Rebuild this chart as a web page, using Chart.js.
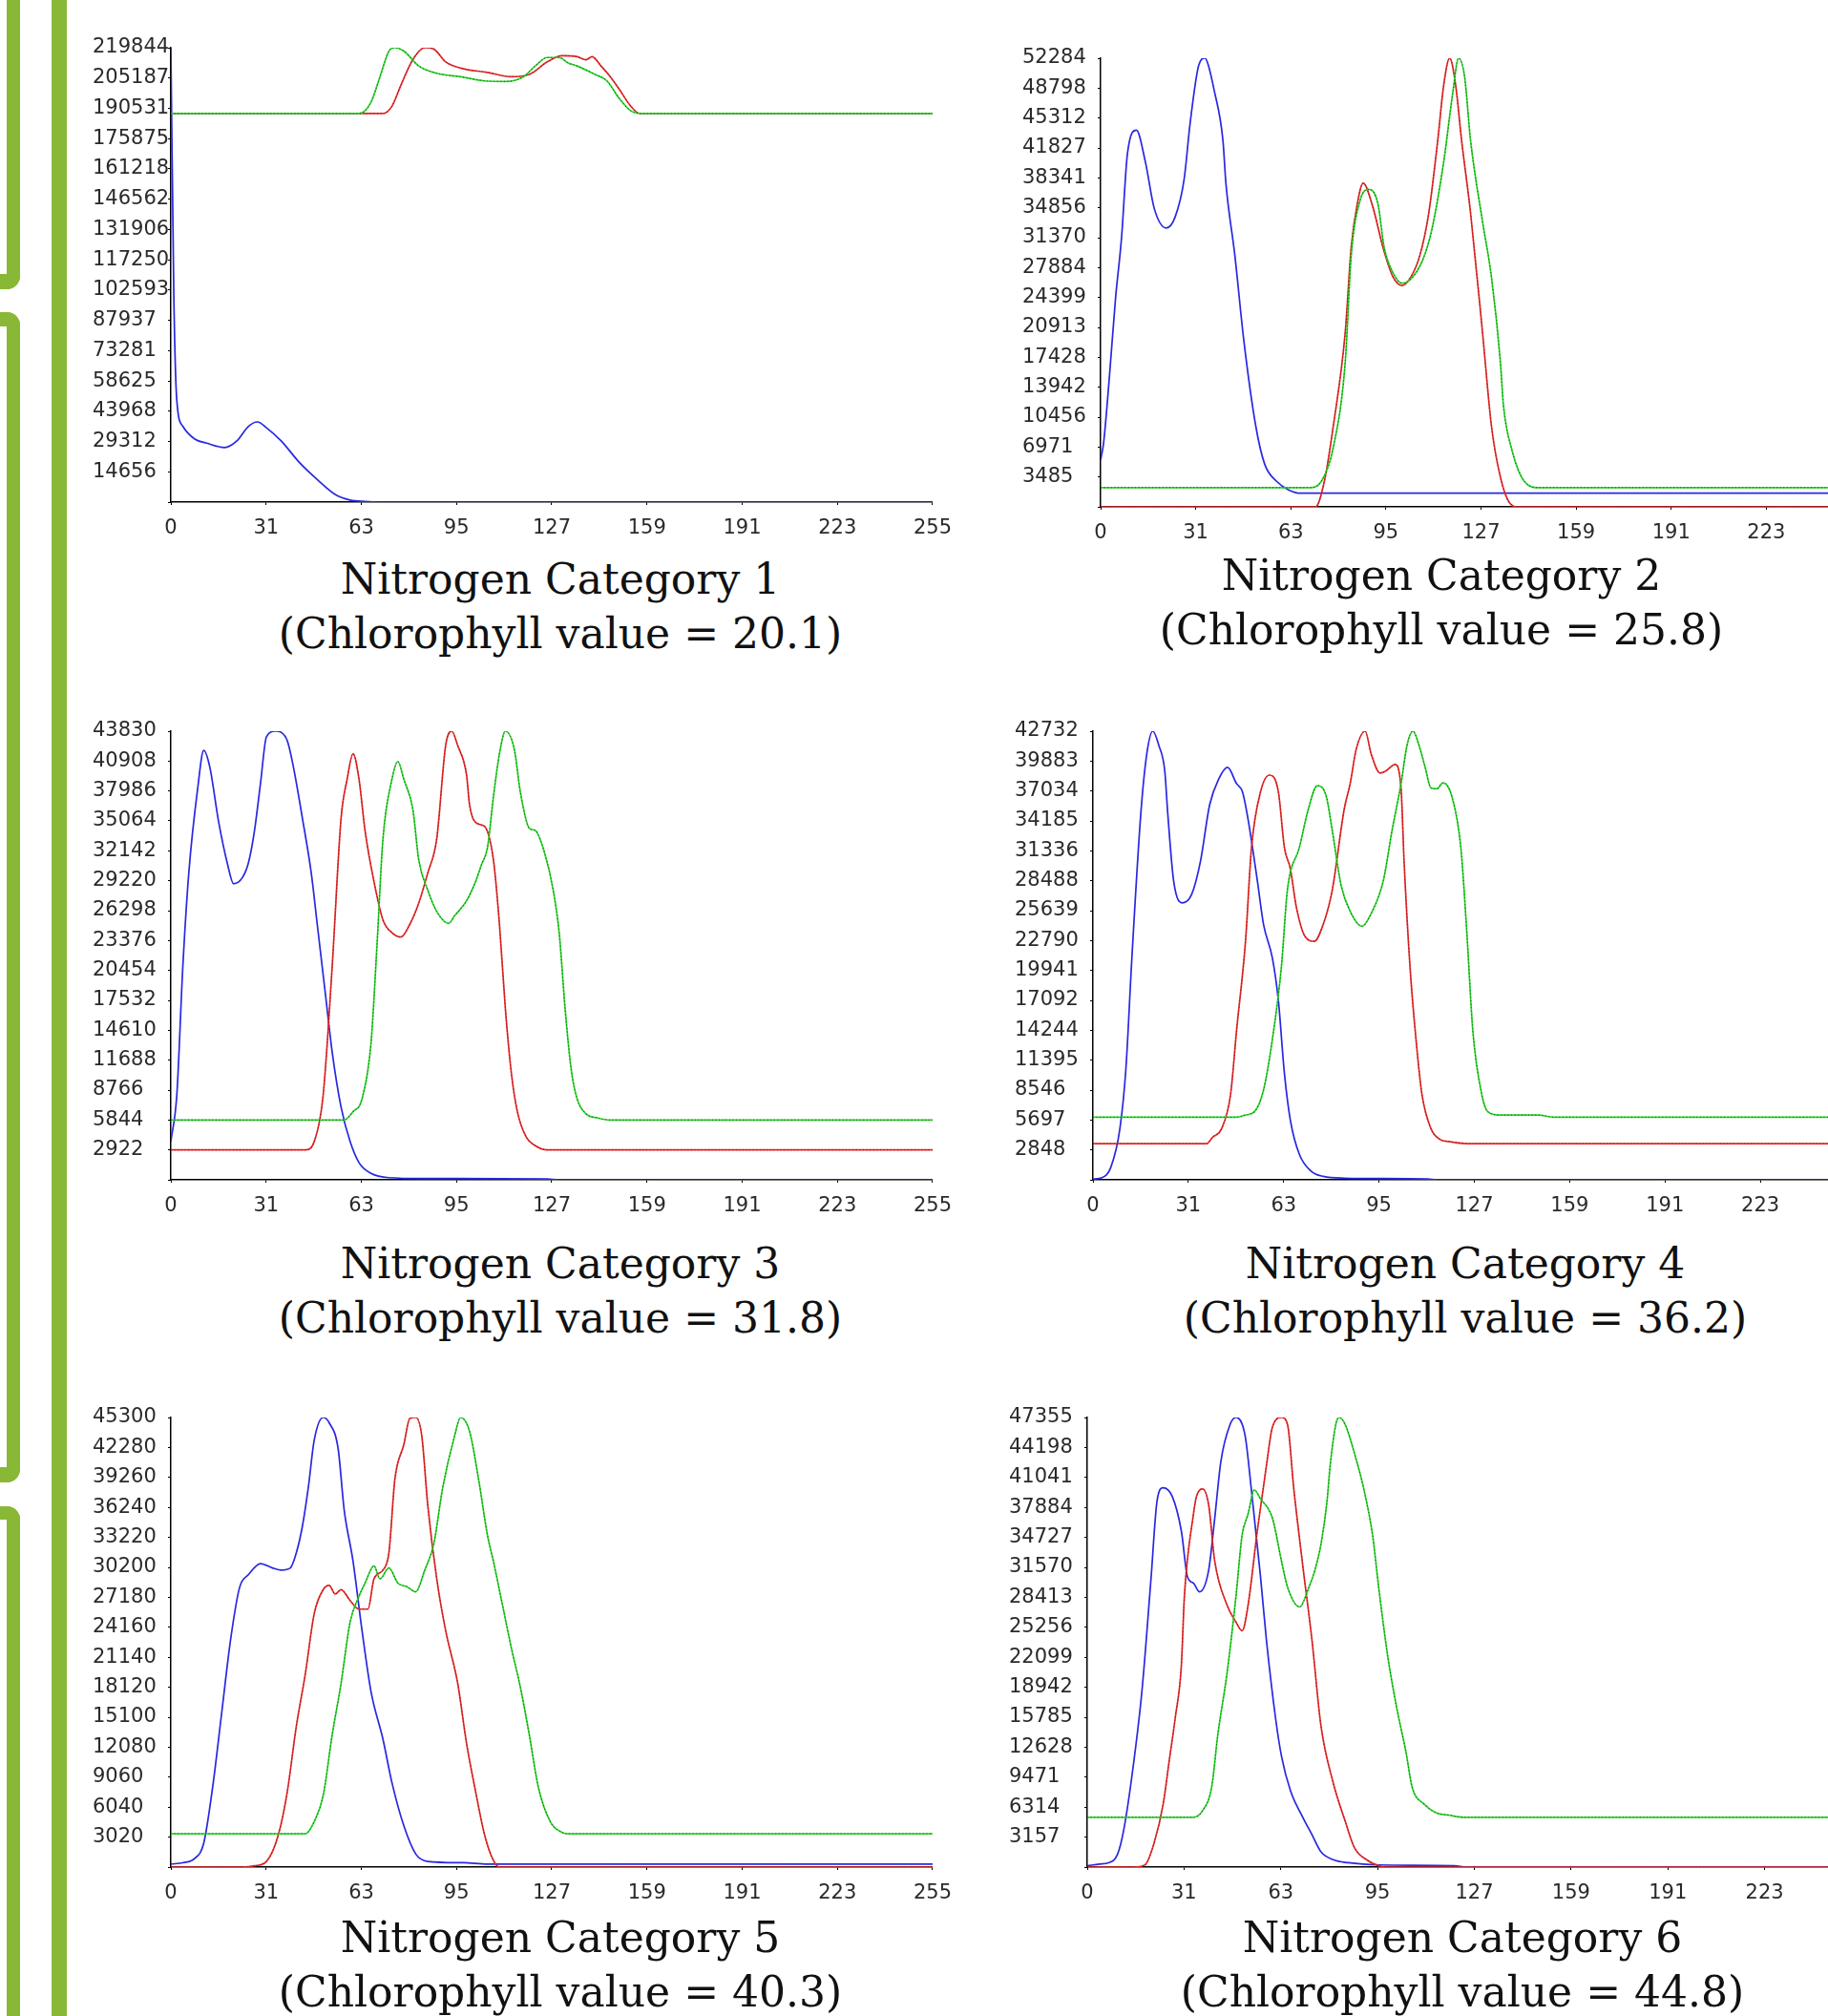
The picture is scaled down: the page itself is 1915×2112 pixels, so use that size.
<!DOCTYPE html>
<html>
<head>
<meta charset="utf-8">
<script src="https://cdn.jsdelivr.net/npm/chart.js@4.4.1/dist/chart.umd.min.js"></script>
<style>
  html, body { margin: 0; padding: 0; background: #fff; }
  body { width: 1915px; height: 2112px; position: relative; overflow: hidden; }
  .bar { position: absolute; border: 0 solid #89b836; }
  .panel { position: absolute; }
  .title {
    position: absolute; width: 900px; margin-left: -450px; text-align: center;
    font-family: "DejaVu Serif", serif; font-size: 44px; line-height: 57px;
    color: #111; white-space: nowrap;
  }
</style>
</head>
<body>
<!-- green side decoration -->
<div class="bar" style="left:-30px;top:-20px;width:37px;height:307px;border-right-width:14px;border-bottom-width:16px;border-bottom-right-radius:14px;"></div>
<div class="bar" style="left:-30px;top:327px;width:37px;height:1195px;border-top-width:15px;border-right-width:14px;border-bottom-width:16px;border-top-right-radius:14px;border-bottom-right-radius:14px;"></div>
<div class="bar" style="left:-30px;top:1578px;width:37px;height:700px;border-top-width:14px;border-right-width:14px;border-top-right-radius:14px;"></div>
<div class="bar" style="left:54px;top:0;width:0;height:2112px;border-left-width:16px;"></div>

<script>
// x axis: histogram bin (0..255), labels at eight equal steps
const xTickLabels = ["0", "31", "63", "95", "127", "159", "191", "223", "255"];

// y axis top value of each panel (ticks every max/15)
const yMax = [219844, 52284, 43830, 42732, 45300, 47355];

const categories = ["Nitrogen Category 1", "Nitrogen Category 2", "Nitrogen Category 3",
                    "Nitrogen Category 4", "Nitrogen Category 5", "Nitrogen Category 6"];
const chlorophyll = ["20.1", "25.8", "31.8", "36.2", "40.3", "44.8"];

// [bin, count]
const blue1 = [[0,219844],[1,98900],[2,49000],[4,36700],[8,30500],[12,28500],[18,26400],[22,29500],[26,36700],[29,38800],[32,36000],[37,29500],[43,19200],[49,10900],[55,3700],[60,1000],[65,300],[70,0],[255,0]];
const red1 = [[0,188000],[71,188000],[74,191500],[77,201700],[81,214100],[85,219844],[88,219200],[92,213000],[97,210000],[106,207900],[114,205800],[120,206900],[126,213000],[131,216000],[136,215500],[139,214000],[141,215500],[144,211000],[147,206000],[150,200000],[154,191500],[157,188000],[255,188000]];
const green1 = [[0,188000],[63,188000],[67,193500],[70,205800],[73,218200],[75,219844],[78,218200],[83,211000],[89,207500],[97,205800],[105,203800],[112,203500],[118,205800],[122,211000],[126,215100],[130,215100],[133,212500],[136,211000],[142,206900],[146,203800],[150,195500],[154,189300],[158,188000],[255,188000]];

const blue2 = [[0,5460],[1,7450],[3,15400],[5,24300],[7,31300],[9,41200],[12,43900],[15,40200],[18,34750],[22,32500],[25,33800],[28,38200],[30,44700],[33,51600],[35,52284],[36,51600],[38,48650],[41,42700],[42,37700],[45,29300],[48,19400],[52,9430],[55,4965],[59,2980],[63,1986],[67,1590],[255,1590]];
const red2 = [[0,0],[72,0],[75,2980],[78,9430],[82,20360],[84,30300],[86,35250],[88,37730],[91,35250],[95,29800],[98,26800],[101,25800],[104,26800],[107,29300],[110,34260],[113,42700],[115,49150],[117,52284],[119,49150],[121,42700],[124,34260],[128,20360],[131,9430],[134,3475],[137,500],[140,0],[255,0]];
const green2 = [[0,2234],[70,2234],[74,2980],[78,6950],[82,16900],[84,29300],[87,35750],[90,37000],[93,35250],[95,30300],[98,27300],[101,26070],[104,26560],[108,28800],[111,32270],[115,40200],[118,48160],[120,52284],[122,50150],[124,42700],[128,33270],[131,26800],[134,16900],[135,11900],[138,6450],[142,2980],[147,2234],[255,2234]];

const blue3 = [[0,3745],[2,8325],[4,20800],[6,29970],[9,38290],[11,41950],[13,40370],[16,34960],[19,30800],[21,28930],[24,29550],[26,31010],[28,34130],[30,38710],[32,43290],[35,43830],[37,43700],[39,42870],[41,40370],[44,35380],[47,29970],[49,24970],[52,17480],[54,12490],[57,7075],[60,3745],[63,1665],[67,624],[73,208],[85,125],[126,80],[130,0],[255,0]];
const red3 = [[0,2922],[45,2922],[48,3745],[51,8325],[54,20810],[57,35380],[59,39120],[61,41620],[63,39120],[65,34130],[68,29130],[71,25390],[74,24140],[77,23720],[80,24970],[83,27050],[86,29970],[89,33300],[92,42450],[94,43830],[96,42450],[99,39540],[100,36630],[103,34750],[105,34540],[108,31220],[110,24970],[112,16650],[114,10400],[116,6660],[119,4160],[122,3330],[126,2922],[255,2922]];
const green3 = [[0,5844],[58,5844],[61,6660],[64,7910],[67,13320],[69,22890],[71,33300],[74,39120],[76,40870],[78,39120],[81,36210],[83,31220],[86,28300],[89,26220],[93,25050],[95,25800],[99,27260],[102,29130],[104,30800],[106,32460],[108,37460],[110,41620],[112,43830],[115,42040],[117,37870],[120,34340],[122,34130],[125,32050],[128,28300],[130,24140],[132,16650],[134,10820],[136,7910],[139,6450],[143,6035],[147,5844],[255,5844]];

const blue4 = [[0,80],[3,200],[6,1217],[9,4870],[11,10550],[13,21100],[16,34900],[18,40580],[20,42732],[22,41390],[24,38960],[25,34900],[27,28400],[30,26380],[33,27190],[36,30430],[39,35710],[42,38150],[45,39280],[48,37740],[50,36930],[52,34090],[55,28400],[57,24350],[60,21100],[62,17040],[64,10150],[66,5680],[69,2435],[73,810],[77,325],[84,160],[112,80],[115,0],[255,0]];
const red4 = [[0,3450],[38,3450],[40,4060],[43,4870],[46,8115],[48,14200],[51,22720],[53,31650],[56,36930],[59,38550],[62,36930],[64,31650],[66,29620],[68,25970],[71,23130],[74,22720],[77,24350],[80,27590],[84,35300],[86,37740],[88,40990],[91,42732],[93,40580],[96,38750],[98,38960],[101,39560],[103,37330],[104,30430],[106,20290],[108,13390],[110,8115],[113,4870],[116,3855],[119,3650],[125,3450],[255,3450]];
const green4 = [[0,5965],[48,5965],[51,6170],[54,6490],[57,8520],[60,13390],[63,20290],[65,27590],[69,31650],[72,35300],[75,37540],[78,36520],[80,33280],[83,28000],[86,25570],[90,24150],[93,25360],[97,28400],[100,33280],[103,37740],[105,41390],[107,42732],[109,41390],[111,39360],[113,37330],[115,37250],[117,37820],[120,36520],[123,31650],[125,23540],[127,14200],[130,8115],[132,6490],[136,6170],[149,6170],[154,5965],[255,5965]];

const blue5 = [[0,306],[4,437],[8,874],[11,2400],[14,8080],[17,15510],[20,22930],[23,28170],[26,29480],[30,30580],[34,30140],[37,29920],[40,30140],[42,31670],[44,34290],[46,38220],[48,43020],[51,45300],[53,44770],[56,42150],[58,36040],[61,30790],[64,23810],[67,17690],[71,12890],[74,8520],[78,4150],[82,1310],[86,570],[98,437],[106,306],[255,306]];
const red5 = [[0,0],[24,0],[28,130],[32,570],[36,3276],[39,7640],[42,14200],[45,19440],[48,25550],[51,27960],[53,28390],[55,27520],[57,27960],[60,26860],[63,25990],[66,25990],[68,29050],[71,29920],[73,31670],[75,39100],[78,42590],[80,45210],[82,45300],[84,43460],[86,36470],[89,29050],[92,23810],[96,18560],[99,12450],[102,7640],[105,3276],[108,655],[110,0],[255,0]];
const green5 = [[0,3363],[45,3363],[48,4590],[51,7210],[54,13320],[57,18560],[60,24680],[63,27300],[65,28610],[68,30360],[70,29050],[73,30140],[76,28610],[79,28260],[82,27740],[85,29920],[88,32540],[91,38220],[95,43460],[97,45300],[100,43900],[103,39100],[106,33420],[108,30790],[111,26430],[114,22060],[117,18130],[120,13320],[123,8080],[127,4590],[131,3490],[133,3363],[255,3363]];

const blue6 = [[0,137],[4,320],[7,457],[10,1370],[12,3880],[15,10280],[18,18500],[21,30370],[23,38590],[25,39960],[28,39050],[31,35390],[33,30600],[35,29910],[37,29000],[40,31280],[42,36760],[44,42700],[47,46580],[49,47355],[52,45440],[54,39960],[57,30830],[59,23980],[62,15760],[64,11650],[67,7990],[71,5250],[74,3425],[77,1600],[81,776],[86,457],[96,228],[121,137],[125,0],[255,0]];
const red6 = [[0,0],[15,0],[19,228],[22,2510],[25,6620],[27,11190],[29,15760],[31,21240],[32,28540],[35,37220],[36,39050],[38,39820],[40,38130],[42,32200],[46,27630],[49,25800],[51,24890],[53,27630],[56,35390],[59,42240],[61,46350],[64,47355],[66,46580],[68,39960],[71,31740],[74,23980],[77,14840],[81,8900],[85,4800],[88,2055],[92,776],[96,137],[98,0],[255,0]];
const green6 = [[0,5250],[35,5250],[38,5940],[41,8450],[43,13930],[46,20320],[49,28540],[51,34940],[53,37220],[55,39730],[57,38820],[61,36760],[64,32200],[66,29460],[70,27400],[73,29460],[75,31280],[77,34020],[79,38590],[80,42240],[82,46810],[83,47355],[85,46580],[88,43610],[91,39960],[94,34940],[96,29460],[99,22150],[102,16670],[105,12100],[107,8450],[111,6620],[115,5710],[119,5480],[124,5250],[255,5250]];

const blueSeries = [blue1, blue2, blue3, blue4, blue5, blue6];
const redSeries = [red1, red2, red3, red4, red5, red6];
const greenSeries = [green1, green2, green3, green4, green5, green6];

// where each panel sits on the page (plot area edges + title centre)
const panels = [
  { axisX: 179,  top: 50,   bottom: 526,  right: 979,  titleX: 587,  titleY: 606 },
  { axisX: 1153, top: 61,   bottom: 531,  right: 1952, titleX: 1510, titleY: 602 },
  { axisX: 179,  top: 766,  bottom: 1236, right: 979,  titleX: 587,  titleY: 1323 },
  { axisX: 1145, top: 766,  bottom: 1236, right: 1946, titleX: 1535, titleY: 1323 },
  { axisX: 179,  top: 1485, bottom: 1956, right: 979,  titleX: 587,  titleY: 2029 },
  { axisX: 1139, top: 1485, bottom: 1956, right: 1952, titleX: 1532, titleY: 2029 }
];

const Y_W = 82, PAD_T = 20, PAD_R = 30, X_H = 50;
const tickFont = { family: "DejaVu Sans", size: 21 };

function lineSet(data, color) {
  return {
    data: data, borderColor: color, borderWidth: 1.7, pointRadius: 0,
    cubicInterpolationMode: "monotone", fill: false
  };
}
function dotSet(data, alpha) {
  return {
    data: data, borderColor: "rgba(0,0,0," + alpha + ")", borderWidth: 1.1,
    borderDash: [1, 2.6], pointRadius: 0, cubicInterpolationMode: "monotone", fill: false
  };
}

panels.forEach((p, i) => {
  const left = p.axisX - Y_W;
  const w = p.right + PAD_R - left;
  const h = PAD_T + (p.bottom - p.top) + X_H;

  const box = document.createElement("div");
  box.className = "panel";
  box.style.left = left + "px";
  box.style.top = (p.top - PAD_T) + "px";
  box.style.width = w + "px";
  box.style.height = h + "px";
  const cv = document.createElement("canvas");
  cv.width = w; cv.height = h;
  box.appendChild(cv);
  document.body.appendChild(box);

  const max = yMax[i];

  // first dataset is drawn on top
  new Chart(cv.getContext("2d"), {
    type: "line",
    data: {
      datasets: [
        dotSet(greenSeries[i], 0.55),
        lineSet(greenSeries[i], "rgb(40,215,40)"),
        dotSet(redSeries[i], 0.45),
        lineSet(redSeries[i], "rgb(235,40,40)"),
        lineSet(blueSeries[i], "rgb(40,40,225)")
      ]
    },
    options: {
      responsive: false,
      animation: false,
      layout: { padding: { top: PAD_T, right: PAD_R, left: 0, bottom: 0 } },
      plugins: { legend: { display: false }, tooltip: { enabled: false }, title: { display: false } },
      scales: {
        x: {
          type: "linear", min: 0, max: 255,
          afterBuildTicks: s => { s.ticks = xTickLabels.map((_, k) => ({ value: 255 * k / 8 })); },
          afterFit: s => { s.height = X_H; },
          ticks: {
            autoSkip: false, maxRotation: 0, padding: 12, color: "#2a2a2a", font: tickFont,
            callback: (v, idx) => xTickLabels[idx]
          },
          grid: { drawOnChartArea: false, drawTicks: true, tickLength: 3, color: "#000" },
          border: { color: "#000", width: 1.5 }
        },
        y: {
          min: 0, max: max,
          afterBuildTicks: s => { s.ticks = Array.from({ length: 16 }, (_, k) => ({ value: max * k / 15 })); },
          afterFit: s => { s.width = Y_W; },
          ticks: {
            autoSkip: false, crossAlign: "far", padding: 2, color: "#2a2a2a", font: tickFont,
            callback: (v, idx) => idx === 0 ? "" : String(Math.floor(max * idx / 15 + 1e-6))
          },
          grid: { drawOnChartArea: false, drawTicks: true, tickLength: 3, color: "#000" },
          border: { color: "#000", width: 1.5 }
        }
      }
    }
  });

  const t = document.createElement("div");
  t.className = "title";
  t.style.left = p.titleX + "px";
  t.style.top = (p.titleY - 28.5) + "px";
  t.innerHTML = categories[i] + "<br>(Chlorophyll value = " + chlorophyll[i] + ")";
  document.body.appendChild(t);
});
</script>
</body>
</html>
